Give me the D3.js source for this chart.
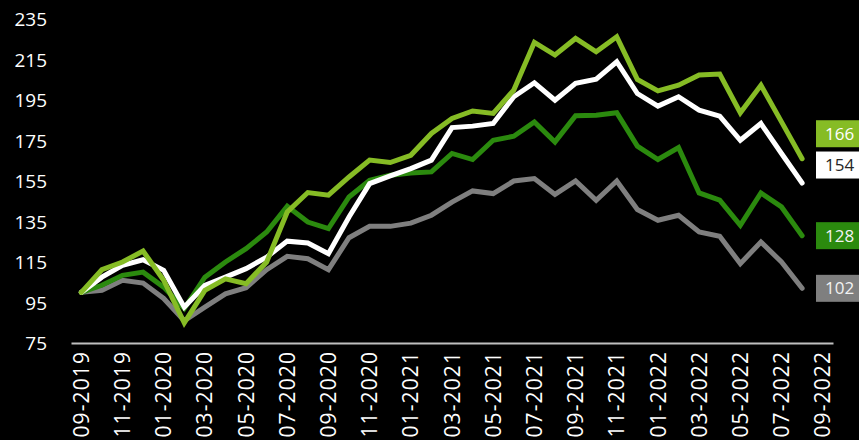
<!DOCTYPE html>
<html>
<head>
<meta charset="utf-8">
<script src="https://cdn.jsdelivr.net/npm/d3@7"></script>
<style>
  html, body { margin: 0; padding: 0; background: #000; }
  svg { display: block; }
  text { font-family: "Open Sans", "Noto Sans", sans-serif; }
</style>
</head>
<body>
<svg id="chart" width="859" height="440"></svg>
<script>
// Monthly index, 09-2019 = 100
const months = [
  "09-2019","10-2019","11-2019","12-2019","01-2020","02-2020","03-2020","04-2020",
  "05-2020","06-2020","07-2020","08-2020","09-2020","10-2020","11-2020","12-2020",
  "01-2021","02-2021","03-2021","04-2021","05-2021","06-2021","07-2021","08-2021",
  "09-2021","10-2021","11-2021","12-2021","01-2022","02-2022","03-2022","04-2022",
  "05-2022","06-2022","07-2022","08-2022","09-2022"
];
const tickLabels = months.filter((m, i) => i % 2 === 0);
const yTicks = [75, 95, 115, 135, 155, 175, 195, 215, 235];

const seriesGray = [100, 101, 106, 104.6, 97, 86, 92.7, 99.3, 102.3, 111.2, 117.8, 116.6,
  111.2, 127, 132.6, 132.6, 134.2, 138.1, 144.6, 150.1, 148.8, 155, 156.2, 148.4,
  155, 145.5, 155, 140.9, 135.6, 138.1, 129.8, 127.7, 114.2, 124.9, 115, 102];
const seriesDarkGreen = [100, 103.5, 108.4, 110, 102.6, 92, 107.5, 115, 121.6, 129.8, 142.5, 134.7,
  131.5, 147.1, 155.4, 157.8, 159, 159.5, 168.6, 165.6, 175.1, 177.1, 184.2, 174.3,
  187.2, 187.5, 188.7, 172.2, 165.6, 171.5, 149.1, 145.5, 133.1, 149.1, 142.2, 128];
const seriesWhite = [100, 107.5, 113.3, 116.1, 110.9, 92.7, 103.4, 107.5, 111.7, 117.4, 125.3, 124.4,
  119.1, 137.2, 153.7, 157.5, 161.1, 165.3, 181.4, 182.1, 183.4, 196.6, 203.5, 194.9,
  203.2, 205.3, 213.9, 198.2, 192, 196.6, 190, 187, 175.1, 183.4, 168.6, 154];
const seriesLightGreen = [100, 111.2, 115, 120.4, 106, 85, 101, 106.7, 104.3, 115, 139.7, 149.3,
  148, 157, 165.3, 164.1, 167.7, 178.5, 185.9, 189.6, 188.4, 199.9, 223.5, 217.2,
  225.4, 218.8, 226.2, 205.2, 199.5, 202.3, 207.3, 207.8, 188.7, 202.3, 184.2, 166];

// Drawing order: back to front
const series = [
  { values: seriesGray,       color: "#7f7f7f", textColor: "#f2f2f2", nudge: 0 },
  { values: seriesDarkGreen,  color: "#2b8a0e", textColor: "#f2f2f2", nudge: 0 },
  { values: seriesWhite,      color: "#ffffff", textColor: "#262626", nudge: -18 },
  { values: seriesLightGreen, color: "#86bc25", textColor: "#ffffff", nudge: -25 }
];

const svg = d3.select("#chart");
const W = 859, H = 440;
const plot = { left: 71, right: 833, top: 19, bottom: 343 };

const x = d3.scaleBand().domain(months).range([plot.left, plot.right]);
const cx = m => x(m) + x.bandwidth() / 2;
const y = d3.scaleLinear().domain([75, 235]).range([plot.bottom, plot.top]);

// Y axis labels
const yAxis = svg.append("g")
  .attr("transform", `translate(${plot.left - 24},0)`)
  .call(d3.axisLeft(y).tickValues(yTicks).tickSize(0).tickPadding(0).tickFormat(d3.format("d")));
yAxis.select(".domain").remove();
yAxis.selectAll("text")
  .attr("fill", "#ffffff")
  .style("font-size", "19px")
  .attr("dy", "0.36em");

// X axis: baseline plus rotated month labels
const xAxis = svg.append("g")
  .attr("transform", `translate(0,${plot.bottom})`)
  .call(d3.axisBottom(x).tickValues(tickLabels).tickSize(0).tickPadding(0));
xAxis.select(".domain")
  .attr("stroke", "#bfbfbf")
  .attr("stroke-width", 2);
xAxis.selectAll(".tick text")
  .attr("fill", "#ffffff")
  .style("font-size", "21px")
  .style("letter-spacing", "1.1px")
  .attr("text-anchor", "end")
  .attr("transform", "rotate(-90)")
  .attr("x", -8)
  .attr("y", 0)
  .attr("dy", "0.36em");

// Lines
const line = d3.line()
  .x((d, i) => cx(months[i]))
  .y(d => y(d));

svg.append("g").selectAll("path")
  .data(series)
  .join("path")
  .attr("d", s => line(s.values))
  .attr("fill", "none")
  .attr("stroke", s => s.color)
  .attr("stroke-width", 5)
  .attr("stroke-linejoin", "miter")
  .attr("stroke-linecap", "round");

// End-value tags
const tagX = 816, tagH = 27;
const tags = svg.append("g").selectAll("g")
  .data(series)
  .join("g")
  .attr("transform", s => {
    const last = s.values[s.values.length - 1];
    return `translate(${tagX},${y(last) + s.nudge})`;
  });
tags.append("rect")
  .attr("x", 0)
  .attr("y", -tagH / 2)
  .attr("width", W - tagX)
  .attr("height", tagH)
  .attr("fill", s => s.color);
tags.append("text")
  .attr("x", 9)
  .attr("dy", "0.36em")
  .attr("fill", s => s.textColor)
  .style("font-size", "17px")
  .text(s => d3.format("d")(s.values[s.values.length - 1]));
</script>
</body>
</html>
